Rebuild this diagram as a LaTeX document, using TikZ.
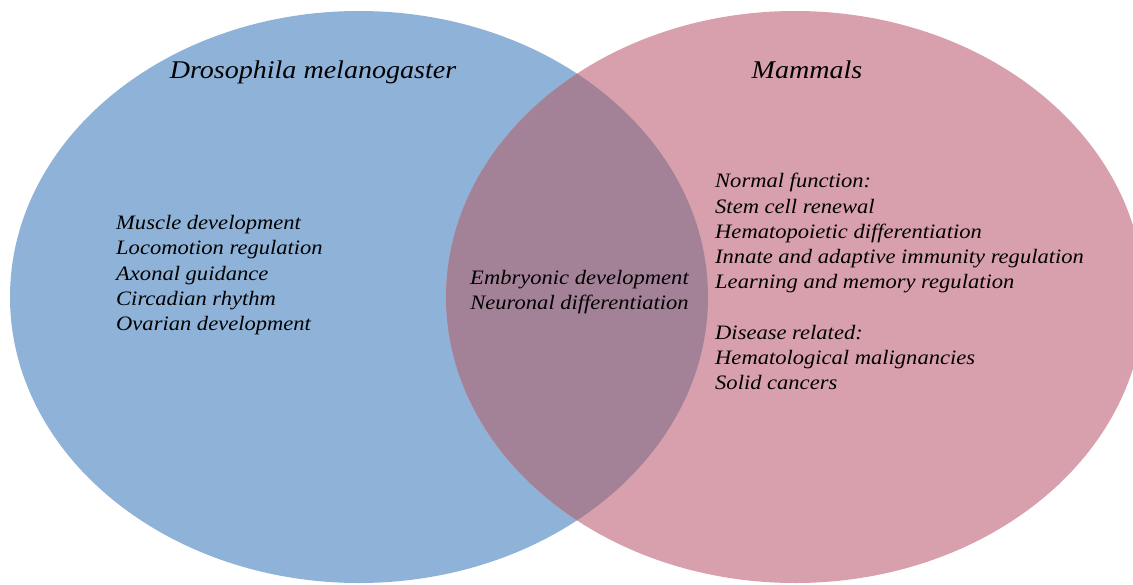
\documentclass[tikz,border=0pt]{standalone}
\usepackage{fontspec}
\setmainfont[FakeStretch=1.1]{Liberation Serif}
\definecolor{flyblue}{RGB}{143,179,216}
\definecolor{mammalpink}{RGB}{216,160,172}
\definecolor{sharedmauve}{RGB}{163,130,152}
\tikzset{
  settitle/.style={font=\fontsize{25.5}{30}\selectfont\itshape, inner sep=0pt, anchor=base},
  listtext/.style={font=\fontsize{20.5}{25.25}\selectfont\itshape, align=left, inner sep=0pt, anchor=north west},
  sharedtext/.style={font=\fontsize{20.5}{25.25}\selectfont\itshape, align=center, inner sep=0pt}
}
\begin{document}
\begin{tikzpicture}[x=1pt,y=-1pt]
\useasboundingbox (0,0) rectangle (1133,584);
\clip (0,0) rectangle (1133,584);
% the two sets
\fill[flyblue] (359,297) ellipse [x radius=349, y radius=286];
\fill[mammalpink] (795,297) ellipse [x radius=349, y radius=286];
% their intersection
\begin{scope}
  \clip (359,297) ellipse [x radius=349, y radius=286];
  \fill[sharedmauve] (795,297) ellipse [x radius=349, y radius=286];
\end{scope}
% set titles
\node[settitle] (flytitle) at (313,78.3) {Drosophila melanogaster};
\node[settitle] (mamtitle) at (807,78.3) {Mammals};
% fly-only functions
\node[listtext] (flylist) at (116,215.3) {Muscle development\\Locomotion regulation\\Axonal guidance\\Circadian rhythm\\Ovarian development};
% shared functions
\node[sharedtext] (shared) at (579.5,292) {Embryonic development\\Neuronal differentiation};
% mammal-only functions
\node[listtext] (mamlist) at (715,173.3) {Normal function:\\Stem cell renewal\\Hematopoietic differentiation\\Innate and adaptive immunity regulation\\Learning and memory regulation\\[25.25pt]Disease related:\\Hematological malignancies\\Solid cancers};
\end{tikzpicture}
\end{document}
